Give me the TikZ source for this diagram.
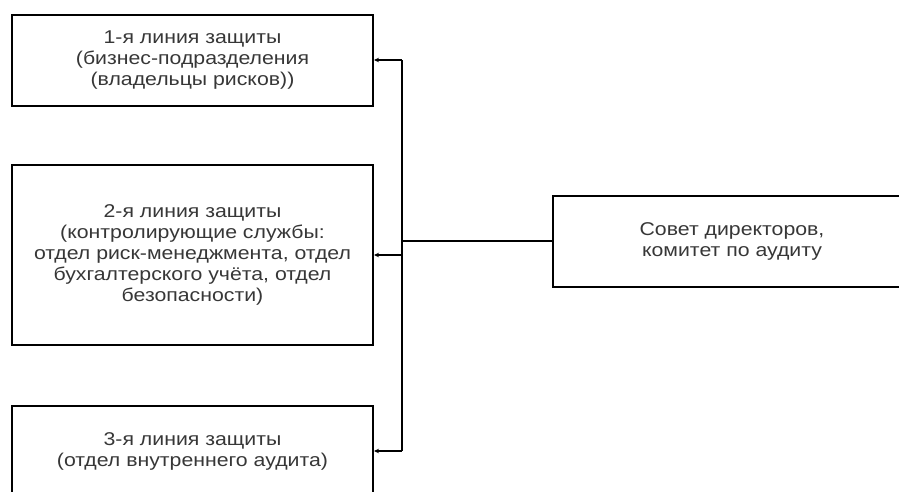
\documentclass[tikz,border=0pt]{standalone}
\usepackage{fontspec}
\setmainfont{Liberation Sans}[FakeStretch=1.15]
\usepackage{xcolor}
\usetikzlibrary{arrows.meta}

\begin{document}
\begin{tikzpicture}[x=1pt,y=-1pt]
% Define colours and styles
\definecolor{boxtext}{RGB}{55,55,55}
\tikzset{
  linebox/.style={draw,line width=2pt,minimum width=361pt,minimum height=91pt,
    align=center,text=boxtext,font=\fontsize{18.5}{21}\selectfont,inner sep=0pt},
  link/.style={line width=1.8pt},
  tolink/.style={link,-{Stealth[length=5pt,width=4.5pt]}}
}
\useasboundingbox (0,0) rectangle (899,491);
\clip (0,0) rectangle (899,491);

% Draw lines of defence
\node[linebox] (l1) at (192.5,60) {1-я линия защиты\\(бизнес-подразделения\\(владельцы рисков))};
\node[linebox,minimum height=180pt] (l2) at (192.5,255) {2-я линия защиты\\(контролирующие службы:\\отдел риск-менеджмента, отдел\\бухгалтерского учёта, отдел\\безопасности)};
\node[linebox] (l3) at (192.5,451) {3-я линия защиты\\(отдел внутреннего аудита)};

% Draw board
\node[linebox,minimum width=358pt] (board) at (732,241) {Совет директоров,\\комитет по аудиту};

% Draw connections
\coordinate (top) at (402,60);
\coordinate (bot) at (402,451);
\draw[link] (top) -- (bot);
\draw[link] (board.west) -- (board.west -| top);
\draw[tolink] (l1.east -| top) -- (l1.east);
\draw[tolink] (l2.east -| top) -- (l2.east);
\draw[tolink] (l3.east -| top) -- (l3.east);
\end{tikzpicture}
\end{document}
